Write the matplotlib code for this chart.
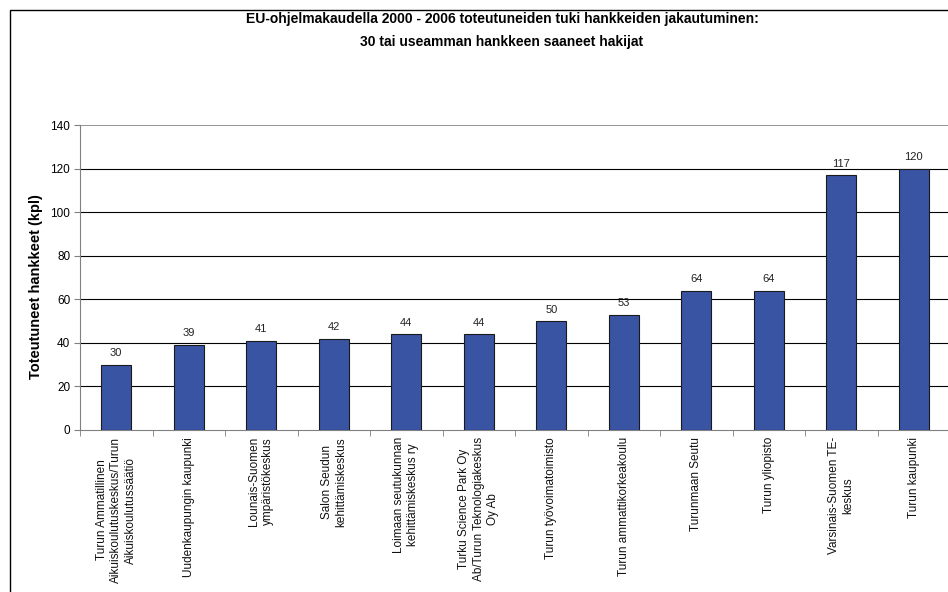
import matplotlib
matplotlib.use("Agg")
import matplotlib.pyplot as plt
import matplotlib.patches as mpatches
import numpy as np

plt.rcParams['font.family'] = ['Liberation Sans', 'DejaVu Sans']

categories = [
    "Turun Ammatillinen\nAikuiskoulutuskeskus/Turun\nAikuiskoulutussäätiö",
    "Uudenkaupungin kaupunki",
    "Lounais-Suomen\nympäristökeskus",
    "Salon Seudun\nkehittämiskeskus",
    "Loimaan seutukunnan\nkehittämiskeskus ry",
    "Turku Science Park Oy\nAb/Turun Teknologiakeskus\nOy Ab",
    "Turun työvoimatoimisto",
    "Turun ammattikorkeakoulu",
    "Turunmaan Seutu",
    "Turun yliopisto",
    "Varsinais-Suomen TE-\nkeskus",
    "Turun kaupunki",
]
values = [30, 39, 41, 42, 44, 44, 50, 53, 64, 64, 117, 120]
yticks = [0, 20, 40, 60, 80, 100, 120, 140]

title1 = "EU-ohjelmakaudella 2000 - 2006 toteutuneiden tuki hankkeiden jakautuminen:"
title2 = "30 tai useamman hankkeen saaneet hakijat"
ylabel = "Toteutuneet hankkeet (kpl)"

W, H = 948, 592
fig = plt.figure(figsize=(W / 100, H / 100), dpi=100)

# outer frame
fig.patches.append(mpatches.Rectangle((10 / W, -0.2), 1.2, 1.2 - 10 / H,
                                      transform=fig.transFigure, fill=False,
                                      edgecolor='black', linewidth=1.0))

ax_left, ax_right = 80, 950
ax_top, ax_bottom = 125, 430
ax = fig.add_axes([ax_left / W, 1 - ax_bottom / H, (ax_right - ax_left) / W, (ax_bottom - ax_top) / H])

x = np.arange(len(values))
ax.bar(x, values, width=0.41, color='#3A54A4', edgecolor='#1a1a1a', linewidth=0.8, zorder=3)
for xi, v in zip(x, values):
    ax.text(xi, v + 3, str(v), ha='center', va='bottom', fontsize=8, color='#222222')

ax.set_xlim(-0.5, len(values) - 0.5)
ax.set_ylim(0, 140)
ax.set_yticks(yticks)
ax.set_yticklabels([str(t) for t in yticks], fontsize=8.5)
for t in yticks[1:-1]:
    ax.axhline(t, color='black', linewidth=0.8, zorder=1)
ax.axhline(140, color='#808080', linewidth=1.2, zorder=1)

ax.set_xticks(x)
ax.set_xticklabels([])
ax.tick_params(axis='x', which='major', length=0)
ax.set_xticks(np.arange(-0.5, len(values), 1.0), minor=True)
ax.tick_params(axis='x', which='minor', length=4, color='#808080', direction='out')
ax.tick_params(axis='y', length=4, color='#808080', direction='out', pad=3)

for s in ['top', 'right']:
    ax.spines[s].set_visible(False)
ax.spines['left'].set_color('#808080')
ax.spines['bottom'].set_color('#808080')

label_top = -(437 - ax_bottom) / (ax_bottom - ax_top)
for xi, lab in zip(x, categories):
    ax.text(xi, label_top, lab,
            transform=ax.get_xaxis_transform(), rotation=90, ha='center', va='top',
            multialignment='center', fontsize=8.5, linespacing=1.25, color='#111111')

fig.text(36 / W, 1 - 287 / H, ylabel, rotation=90, ha='center', va='center',
         fontsize=10.5, fontweight='bold')
fig.text(502 / W, 1 - 19 / H, title1, ha='center', va='center',
         fontsize=10, fontweight='bold')
fig.text(502 / W, 1 - 42 / H, title2, ha='center', va='center',
         fontsize=10, fontweight='bold')

fig.savefig("out.png", dpi=100)
